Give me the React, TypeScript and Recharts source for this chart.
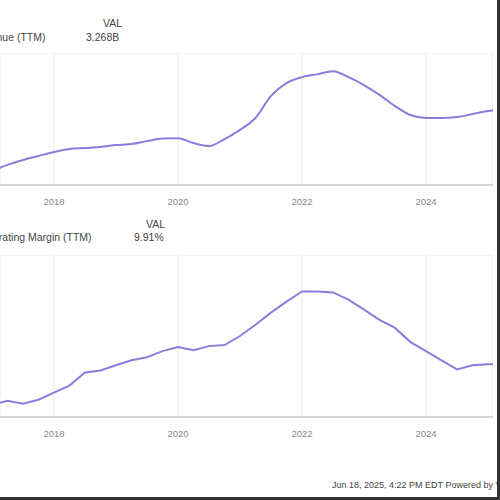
import { LineChart, Line, XAxis, YAxis, CartesianGrid } from 'recharts'

// quarter positions, as fractional years
const QUARTERS = [
  2017.0, 2017.25, 2017.5, 2017.75,
  2018.0, 2018.25, 2018.5, 2018.75,
  2019.0, 2019.25, 2019.5, 2019.75,
  2020.0, 2020.25, 2020.5, 2020.75,
  2021.0, 2021.25, 2021.5, 2021.75,
  2022.0, 2022.25, 2022.5, 2022.75,
  2023.0, 2023.25, 2023.5, 2023.75,
  2024.0, 2024.25, 2024.5, 2024.75,
  2025.0, 2025.25,
]

// revenue TTM, billions
const REVENUE = [
  1.42, 1.61, 1.76, 1.88,
  2.0, 2.09, 2.12, 2.15,
  2.21, 2.24, 2.33, 2.41,
  2.42, 2.27, 2.18, 2.39,
  2.67, 3.03, 3.7, 4.09,
  4.27, 4.36, 4.45, 4.27,
  4.03, 3.73, 3.39, 3.12,
  3.03, 3.03, 3.06, 3.15,
  3.24, 3.3,
]

// operating margin TTM, %
const OP_MARGIN = [
  1.5, 2.0, 1.63, 2.13,
  3.0, 3.88, 5.5, 5.75,
  6.38, 7.0, 7.38, 8.13,
  8.63, 8.25, 8.75, 8.88,
  10.0, 11.38, 12.88, 14.25,
  15.5, 15.5, 15.38, 14.5,
  13.25, 12.0, 11.0, 9.25,
  8.13, 7.0, 5.88, 6.38,
  6.5, 6.5,
]

const YEAR_TICKS = [2018, 2020, 2022, 2024]
const REV_TICKS = [1, 2, 3, 4, 5]
const MARGIN_TICKS = [0, 5, 10, 15, 20]

const revData = QUARTERS.map((t, i) => ({ t, v: REVENUE[i] }))
const marginData = QUARTERS.map((t, i) => ({ t, v: OP_MARGIN[i] }))

const LINE = '#8a7ddd'
const FONT = '"Liberation Sans", Arial, sans-serif'
const X_DOMAIN: [number, number] = [2017.13, 2025.08]

function Panel({ data, ticks, height, curve }: {
  data: { t: number; v: number }[]
  ticks: number[]
  height: number
  curve: 'monotone' | 'linear'
}) {
  return (
    <LineChart width={493} height={height + 30} data={data} margin={{ top: 0, right: 0, left: 0, bottom: 0 }}>
      <CartesianGrid stroke="#e9e9e9" />
      <XAxis
        type="number"
        dataKey="t"
        domain={X_DOMAIN}
        ticks={YEAR_TICKS}
        allowDataOverflow
        height={30}
        tickLine={false}
        axisLine={{ stroke: '#d6d6d6', strokeWidth: 2 }}
        tick={{ fontSize: 9.5, fill: '#888', fontFamily: FONT }}
        tickMargin={7}
      />
      <YAxis
        width={0}
        domain={[ticks[0], ticks[ticks.length - 1]]}
        ticks={ticks}
        tick={false}
        axisLine={false}
        tickLine={false}
      />
      <Line dataKey="v" stroke={LINE} strokeWidth={2} dot={false} type={curve} isAnimationActive={false} />
    </LineChart>
  )
}

const txt = (extra: React.CSSProperties): React.CSSProperties => ({
  position: 'absolute',
  fontFamily: FONT,
  fontSize: 10.5,
  color: '#444',
  whiteSpace: 'nowrap',
  ...extra,
})

export default function App() {
  return (
    <div style={{ position: 'absolute', left: 0, top: 0, width: 500, height: 500, overflow: 'hidden', background: '#fff' }}>
      <div style={txt({ left: 103, top: 17 })}>VAL</div>
      <div style={txt({ left: -28, top: 31 })}>Revenue (TTM)</div>
      <div style={txt({ left: 86, top: 31 })}>3.268B</div>
      <div style={{ position: 'absolute', left: 0, top: 53 }}>
        <Panel data={revData} ticks={REV_TICKS} height={132} curve="monotone" />
      </div>

      <div style={txt({ left: 146, top: 218 })}>VAL</div>
      <div style={txt({ left: -21, top: 231 })}>Operating Margin (TTM)</div>
      <div style={txt({ left: 134, top: 231 })}>9.91%</div>
      <div style={{ position: 'absolute', left: 0, top: 255 }}>
        <Panel data={marginData} ticks={MARGIN_TICKS} height={162} curve="linear" />
      </div>

      <div style={txt({ left: 332, top: 480, fontSize: 9, color: '#444' })}>
        Jun 18, 2025, 4:22 PM EDT  Powered by YCharts
      </div>
      <div style={{ position: 'absolute', left: 497, top: 0, width: 3, height: 500, background: '#333' }} />
      <div style={{ position: 'absolute', left: 0, top: 497, width: 500, height: 3, background: '#333' }} />
    </div>
  )
}
